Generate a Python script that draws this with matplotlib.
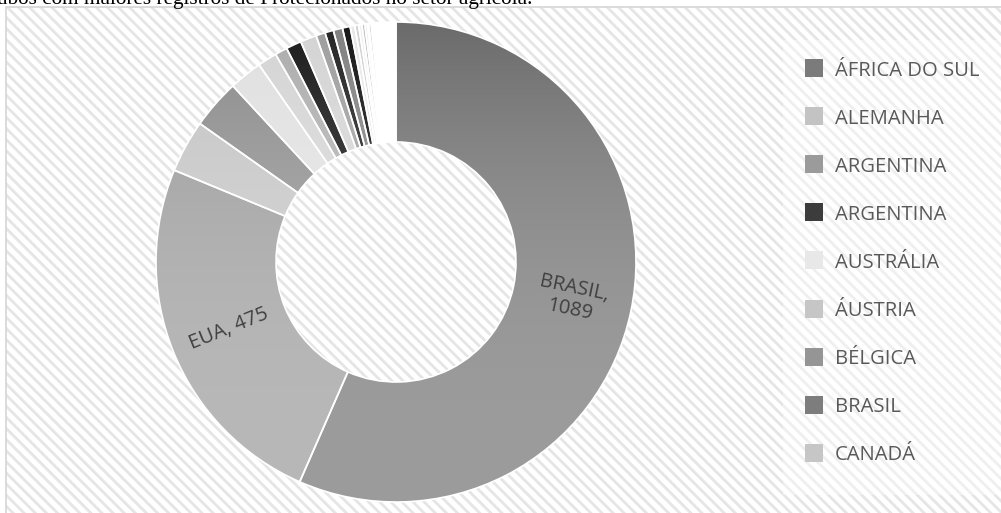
import numpy as np
import matplotlib
matplotlib.use('Agg')
import matplotlib.pyplot as plt
from matplotlib.patches import Rectangle

# slices in drawing order, clockwise from 12 o'clock
slice_names = ['BRASIL', 'EUA'] + [''] * 21
slice_values = [1089, 475, 68, 64, 43, 25, 16, 20, 21, 12, 11, 12, 10,
                6, 5, 4, 4, 3, 2, 3, 2, 1, 29]
# base gray level of each slice (0-255), darkened towards the top
slice_grays = [156, 184, 214, 176, 234, 226, 200, 80, 226, 190, 90, 170, 76,
               240, 225, 245, 215, 235, 250, 200, 160, 230, 255]
labeled = ['BRASIL', 'EUA']

legend_labels = ['ÁFRICA DO SUL', 'ALEMANHA', 'ARGENTINA', 'ARGENTINA',
                 'AUSTRÁLIA', 'ÁUSTRIA', 'BÉLGICA', 'BRASIL', 'CANADÁ']
legend_colors = ['#7b7b7b', '#c3c3c3', '#9b9b9b', '#3c3c3c', '#e8e8e8',
                 '#c6c6c6', '#959595', '#7d7d7d', '#c6c6c6']

title_text = 'ubos com maiores registros de Protecionados no setor agrícola.'

W, H = 1001, 513
plt.rcParams['hatch.linewidth'] = 2.0
plt.rcParams['hatch.color'] = '#e5e5e5'
fig = plt.figure(figsize=(W / 100, H / 100), dpi=100)

# striped chart area
bg = Rectangle((6 / W, -0.01), 1.0, 1 - 7 / H + 0.01, transform=fig.transFigure,
               facecolor='white', edgecolor='#e5e5e5', lw=0, hatch='\\' * 3, zorder=0)
fig.add_artist(bg)
border = Rectangle((6 / W, -0.01), 1.0, 1 - 7 / H + 0.01, transform=fig.transFigure,
                   fill=False, edgecolor='#d6d6d6', lw=1.2, zorder=0)
fig.add_artist(border)

# caption line, cut off by the top edge as in the source
fig.text(-3 / W, 1 - 4 / H, title_text, family='Liberation Serif', fontsize=15.3,
         va='baseline', ha='left', color='black')

# donut
cx, cy, r = 396, 262, 240
ax = fig.add_axes([(cx - r) / W, (H - cy - r) / H, 2 * r / W, 2 * r / H])
ax.patch.set_visible(False)
wedges, _ = ax.pie(slice_values, startangle=90, counterclock=False, radius=1,
                   wedgeprops=dict(width=0.5, edgecolor='white', linewidth=1.2))

t = np.linspace(0, 1, 256)
for w, g in zip(wedges, slice_grays):
    amp = min(52, 0.5 * (255 - g))
    vals = np.clip((g - amp * (1 - t) ** 2.5) / 255, 0, 1)
    img = np.repeat(vals[:, None], 3, axis=1)[:, None, :]
    im = ax.imshow(img, extent=(-1, 1, -1, 1), origin='upper', aspect='auto',
                   interpolation='bilinear', zorder=1)
    im.set_clip_path(w)
    w.set_facecolor('none')
    w.set_zorder(2)

for w, name, v in zip(wedges, slice_names, slice_values):
    if name not in labeled:
        continue
    mid = (w.theta1 + w.theta2) / 2
    x = 0.75 * np.cos(np.radians(mid))
    y = 0.75 * np.sin(np.radians(mid))
    rot = mid if np.cos(np.radians(mid)) >= 0 else mid + 180
    ax.text(x, y, f'{name},\n{v}' if name == 'BRASIL' else f'{name}, {v}',
            ha='center', va='center', rotation=rot, rotation_mode='anchor',
            color='#404040', fontsize=14.5, family='Open Sans', linespacing=1.1,
            zorder=3)

ax.set_xlim(-1, 1)
ax.set_ylim(-1, 1)
ax.axis('off')

# legend
leg_bg = Rectangle((783 / W, 1 - 495 / H), 1.0, (495 - 40) / H, transform=fig.transFigure,
                   facecolor='white', alpha=0.4, edgecolor='none', zorder=1)
fig.add_artist(leg_bg)
for i, (lab, col) in enumerate(zip(legend_labels, legend_colors)):
    yy = 68 + i * 48.1
    sq = Rectangle((805 / W, 1 - (yy + 9) / H), 18 / W, 18 / H, transform=fig.transFigure,
                   facecolor=col, edgecolor='none', zorder=2)
    fig.add_artist(sq)
    fig.text(835 / W, 1 - yy / H, lab, va='center_baseline', ha='left',
             color='#595959', fontsize=14.6, family='Open Sans')

fig.savefig('out.png', dpi=100)
